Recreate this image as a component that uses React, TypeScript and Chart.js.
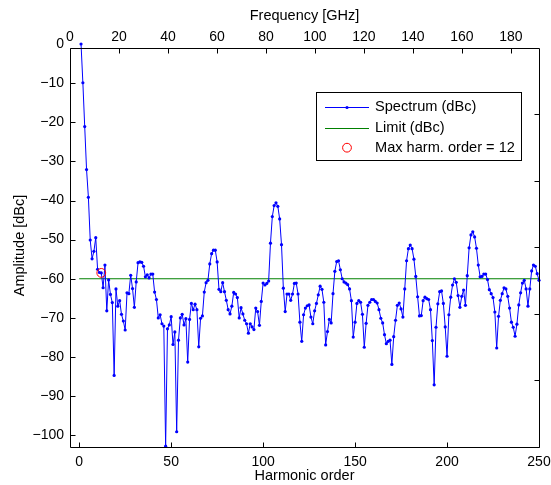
import React, { useEffect, useRef } from 'react';
import { Chart, registerables } from 'chart.js';

Chart.register(...registerables);

// ---------------- data ----------------
// Amplitude (dBc) of harmonic orders 1..250
const spectrumDbc: number[] = [
  0, -9.9, -21.1, -32.1, -39.2, -50.1, -54.9, -53.0, -49.5, -57.6,
  -58.4, -58.5, -62.3, -56.5, -68.2, -60.3, -64.0, -66.1, -84.7, -62.6,
  -67.0, -65.6, -69.1, -70.8, -73.1, -63.6, -63.8, -59.1, -62.5, -67.3,
  -60.8, -55.9, -55.7, -55.8, -56.8, -59.5, -59.0, -59.8, -58.8, -58.8,
  -63.4, -65.3, -70.0, -69.2, -71.5, -72.1, -102.8, -72.8, -71.8, -69.7,
  -76.8, -73.6, -99.1, -75.7, -70.0, -69.1, -71.8, -70.2, -81.3, -70.4,
  -66.3, -67.9, -66.5, -67.9, -77.4, -70.1, -69.5, -63.4, -61.0, -60.4,
  -56.2, -53.6, -52.7, -52.7, -55.7, -62.7, -63.3, -61.0, -63.3, -65.5,
  -67.9, -69.0, -67.0, -63.5, -63.9, -64.8, -70.0, -67.4, -69.0, -70.6,
  -71.5, -73.9, -71.5, -72.3, -73.0, -67.5, -68.4, -71.9, -65.8, -61.1,
  -61.6, -61.2, -60.6, -50.9, -44.1, -41.3, -40.6, -41.5, -44.7, -51.3,
  -62.4, -68.4, -63.9, -63.9, -65.5, -63.9, -61.2, -61.1, -63.9, -71.1,
  -76.0, -69.2, -67.5, -66.9, -66.7, -69.8, -71.5, -68.2, -66.3, -64.1,
  -61.9, -62.7, -66.0, -76.9, -73.5, -70.4, -71.3, -63.8, -58.1, -55.6,
  -55.4, -57.7, -60.0, -60.8, -61.1, -61.5, -62.6, -65.6, -74.9, -71.1,
  -66.3, -65.6, -66.0, -69.1, -77.5, -71.4, -66.8, -66.0, -65.3, -65.3,
  -65.8, -66.2, -67.9, -70.1, -71.3, -74.3, -76.6, -76.0, -75.7, -81.9,
  -74.8, -70.6, -66.8, -66.2, -67.7, -69.8, -62.6, -55.4, -52.3, -51.4,
  -52.3, -55.0, -59.4, -64.6, -69.5, -69.4, -65.6, -64.7, -65.1, -65.3,
  -67.9, -75.8, -87.1, -72.4, -66.4, -63.3, -63.1, -66.3, -72.3, -79.8,
  -69.2, -64.7, -61.6, -60.0, -60.9, -64.3, -67.3, -64.5, -62.9, -66.8,
  -59.2, -52.1, -48.8, -48.0, -49.3, -52.2, -56.5, -59.5, -59.4, -58.8,
  -58.8, -60.2, -62.8, -63.8, -64.8, -68.5, -77.7, -69.6, -65.5, -63.8,
  -62.3, -62.6, -64.5, -67.5, -71.1, -72.4, -74.7, -71.6, -66.7, -63.6,
  -61.1, -60.4, -62.6, -67.0, -62.6, -58.0, -56.5, -56.8, -58.7, -60.4,
];
const firstHarmonic = 1;
const limitDbc = -60;
const limitHarmonics = [0, 250];
const maxHarmOrder = 12;
const maxHarmDbc = -58.5;

const harmonicRange = [-5, 250];
const freqRangeGHz = [0, 191.5];
const ampRange = [-103, 0];
const harmonicTicks = [0, 50, 100, 150, 200, 250];
const freqTicks = [0, 20, 40, 60, 80, 100, 120, 140, 160, 180];
const ampTicks = [0, -10, -20, -30, -40, -50, -60, -70, -80, -90, -100];

const legendLabels = ['Spectrum (dBc)', 'Limit (dBc)', 'Max harm. order = ' + maxHarmOrder];
const xTitle = 'Harmonic order';
const x2Title = 'Frequency [GHz]';
const yTitle = 'Amplitude [dBc]';

// ---------------- style ----------------
const FONT = '"Liberation Sans", Arial, Helvetica, sans-serif';
const BLUE = '#0000ff';
const GREEN = '#008000';
const RED = '#ff0000';
const BOX_TOP_OFFSET = 3.5;
const TICK_LEN = 5;

const fmt = (v: number) => (v < 0 ? '\u2212' + Math.abs(v) : String(v));

const framePlugin = {
  id: 'matlabFrame',
  afterDraw(chart: any) {
    const { ctx, chartArea } = chart;
    const { left, right, bottom } = chartArea;
    const top = chartArea.top + BOX_TOP_OFFSET;
    const xs = chart.scales.x;
    const x2 = chart.scales.x2;
    const ys = chart.scales.y;
    const r = (v: number) => Math.round(v) + 0.5;
    ctx.save();
    ctx.strokeStyle = '#000';
    ctx.lineWidth = 1;
    ctx.beginPath();
    ctx.rect(r(left), r(top), Math.round(right) - Math.round(left), Math.round(bottom) - Math.round(top));
    harmonicTicks.forEach((v) => {
      const x = r(xs.getPixelForValue(v));
      ctx.moveTo(x, r(bottom));
      ctx.lineTo(x, r(bottom) - TICK_LEN);
    });
    freqTicks.forEach((v) => {
      const x = r(x2.getPixelForValue(v));
      ctx.moveTo(x, r(top));
      ctx.lineTo(x, r(top) + TICK_LEN);
    });
    ampTicks.forEach((v) => {
      const y = r(ys.getPixelForValue(v));
      if (y < top || y > bottom) return;
      ctx.moveTo(r(left), y);
      ctx.lineTo(r(left) + TICK_LEN, y);
    });
    for (let i = 1; i < 6; i++) {
      const y = r(top + (i * (bottom - top)) / 6);
      ctx.moveTo(r(right), y);
      ctx.lineTo(r(right) - TICK_LEN, y);
    }
    ctx.stroke();

    // legend
    const lw = 205;
    const lh = 68;
    const lx = Math.round(right) - 18 - lw;
    const ly = Math.round(chartArea.top) + 48;
    ctx.fillStyle = '#fff';
    ctx.fillRect(lx, ly, lw, lh);
    ctx.strokeStyle = '#000';
    ctx.strokeRect(lx + 0.5, ly + 0.5, lw, lh);
    const rows = [ly + 14.7, ly + 35.7, ly + 55.7];
    const sx0 = lx + 9;
    const sx1 = lx + 53;
    const sxm = (sx0 + sx1) / 2;
    ctx.lineWidth = 1;
    ctx.strokeStyle = BLUE;
    ctx.beginPath();
    ctx.moveTo(sx0, r(rows[0]));
    ctx.lineTo(sx1, r(rows[0]));
    ctx.stroke();
    ctx.fillStyle = BLUE;
    ctx.beginPath();
    ctx.arc(sxm, r(rows[0]), 1.6, 0, Math.PI * 2);
    ctx.fill();
    ctx.strokeStyle = GREEN;
    ctx.beginPath();
    ctx.moveTo(sx0, r(rows[1]));
    ctx.lineTo(sx1, r(rows[1]));
    ctx.stroke();
    ctx.strokeStyle = RED;
    ctx.beginPath();
    ctx.arc(sxm, rows[2], 4.4, 0, Math.PI * 2);
    ctx.stroke();
    ctx.fillStyle = '#000';
    ctx.font = '14.6px ' + FONT;
    ctx.textBaseline = 'middle';
    ctx.textAlign = 'left';
    legendLabels.forEach((t, i) => ctx.fillText(t, lx + 59, rows[i]));
    ctx.restore();
  },
};

export default function App() {
  const canvasRef = useRef<HTMLCanvasElement | null>(null);

  useEffect(() => {
    document.body.style.margin = '0';
    const canvas = canvasRef.current;
    if (!canvas) return;
    const tickFont = { family: FONT, size: 14, lineHeight: 1 };
    const titleFont = { family: FONT, size: 14.5, lineHeight: 1 };
    const chart = new Chart(canvas, {
      type: 'line',
      data: {
        datasets: [
          {
            label: legendLabels[0],
            data: spectrumDbc.map((v, i) => ({ x: i + firstHarmonic, y: v })),
            borderColor: BLUE,
            backgroundColor: BLUE,
            borderWidth: 1,
            pointRadius: 1.6,
            pointBorderWidth: 0,
            pointBackgroundColor: BLUE,
            tension: 0,
            clip: false as any,
            order: 2,
          },
          {
            label: legendLabels[1],
            data: limitHarmonics.map((h) => ({ x: h, y: limitDbc })),
            borderColor: GREEN,
            borderWidth: 1,
            pointRadius: 0,
            tension: 0,
            order: 3,
          },
          {
            label: legendLabels[2],
            type: 'scatter' as any,
            data: [{ x: maxHarmOrder, y: maxHarmDbc }],
            borderColor: RED,
            backgroundColor: 'rgba(0,0,0,0)',
            pointRadius: 4.4,
            pointBorderWidth: 1,
            showLine: false,
            order: 1,
          },
        ],
      },
      options: {
        animation: false,
        responsive: false,
        maintainAspectRatio: false,
        layout: { padding: { left: 0, right: 12, top: 0, bottom: 0 } },
        plugins: { legend: { display: false }, tooltip: { enabled: false } },
        scales: {
          x: {
            type: 'linear',
            position: 'bottom',
            min: harmonicRange[0],
            max: harmonicRange[1],
            grid: { display: false, drawTicks: false },
            border: { display: false },
            ticks: { color: '#000', font: tickFont, padding: 8, maxRotation: 0, callback: (v: any) => fmt(Number(v)) },
            title: { display: true, text: xTitle, color: '#000', font: titleFont, padding: { top: 0, bottom: 2 } },
            afterBuildTicks: (s: any) => { s.ticks = harmonicTicks.map((value) => ({ value })); },
            afterFit: (s: any) => { s.height = 38; s.paddingLeft = 0; s.paddingRight = 0; },
          },
          x2: {
            type: 'linear',
            position: 'top',
            min: freqRangeGHz[0],
            max: freqRangeGHz[1],
            grid: { display: false, drawTicks: false },
            border: { display: false },
            ticks: { color: '#000', font: tickFont, padding: 0, maxRotation: 0, callback: (v: any) => fmt(Number(v)) },
            title: { display: true, text: x2Title, color: '#000', font: titleFont, padding: { top: 9, bottom: 0 } },
            afterBuildTicks: (s: any) => { s.ticks = freqTicks.map((value) => ({ value })); },
            afterFit: (s: any) => { s.height = 44; s.paddingLeft = 0; s.paddingRight = 0; },
          },
          y: {
            type: 'linear',
            position: 'left',
            min: ampRange[0],
            max: ampRange[1],
            grid: { display: false, drawTicks: false },
            border: { display: false },
            ticks: { color: '#000', font: tickFont, padding: 6, callback: (v: any) => fmt(Number(v)) },
            title: { display: true, text: yTitle, color: '#000', font: titleFont, padding: { top: 13, bottom: 0 } },
            afterBuildTicks: (s: any) => { s.ticks = ampTicks.map((value) => ({ value })); },
            afterFit: (s: any) => { s.width = 70; s.paddingTop = 0; s.paddingBottom = 0; },
          },
        },
      } as any,
      plugins: [framePlugin],
    });
    return () => chart.destroy();
  }, []);

  return (
    <div style={{ width: 551, height: 485, background: '#fff' }}>
      <canvas ref={canvasRef} width={551} height={485} style={{ display: 'block' }} />
    </div>
  );
}
